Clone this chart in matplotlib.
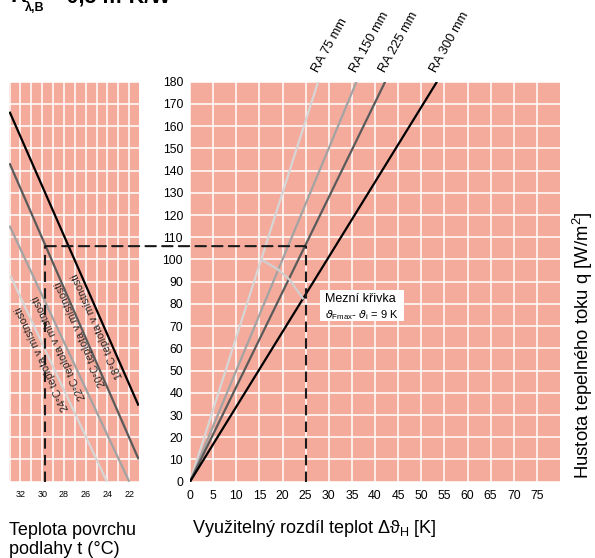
import numpy as np
import matplotlib.pyplot as plt
from matplotlib.patches import ConnectionPatch, Rectangle

plt.rcParams['font.family'] = ['Liberation Sans', 'DejaVu Sans']

# levý graf: teplota povrchu podlahy vs. hustota tepelného toku
room_labels = ['18°C teplota v místnosti', '20°C teplota v místnosti',
               '22°C teplota v místnosti', '24°C teplota v místnosti']
room_t = [[33.0, 21.14], [33.0, 21.14], [33.0, 22.0], [32.92, 24.05]]
room_q = [[166.5, 34.2], [143.3, 10.1], [115.2, 0.0], [92.7, 0.0]]
room_colors = ['#000000', '#5a5a5a', '#a3a3a3', '#d6d6d6']
# pozice popisků (t, q)
room_label_t = [24.95, 26.5, 28.45, 30.0]
room_label_q = [70.0, 66.5, 60.5, 55.5]

# pravý graf: využitelný rozdíl teplot vs. hustota tepelného toku
ra_labels = ['RA 75 mm', 'RA 150 mm', 'RA 225 mm', 'RA 300 mm']
ra_dt = [[0, 27.7], [0, 36.0], [0, 42.2], [0, 53.4]]
ra_q = [[0, 180], [0, 180], [0, 180], [0, 180]]
ra_colors = ['#d6d6d6', '#a3a3a3', '#5a5a5a', '#000000']

# mezní křivka
limit_dt = [15.4, 19.0, 21.5, 24.4]
limit_q = [100.0, 95.5, 91.0, 82.5]

# příklad odečtu
ex_t = 29.7
ex_dt = 25.0
ex_q = 106.0

bg = '#f5ab9c'

fig = plt.figure(figsize=(5.95, 5.58), dpi=100)
ax1 = fig.add_axes([9 / 595, 76.3 / 558, 129.5 / 595, 400 / 558])
ax2 = fig.add_axes([190 / 595, 76.3 / 558, 370 / 595, 400 / 558])

for ax in (ax1, ax2):
    ax.set_facecolor(bg)
    for s in ax.spines.values():
        s.set_visible(False)
    ax.tick_params(length=0)
    ax.set_ylim(0, 180)
    ax.set_axisbelow(True)

# --- levý graf ---
ax1.set_xlim(33.05, 21.15)
ax1.set_xticks(np.arange(32, 21, -2))
ax1.set_xticks(np.arange(33, 21, -1), minor=True)
ax1.set_yticks(np.arange(0, 181, 10))
ax1.set_yticklabels([])
ax1.tick_params(axis='x', labelsize=6.5, pad=6)
ax1.tick_params(which='minor', length=0)
ax1.grid(True, which='both', color='white', lw=1.1)

for t, q, c in zip(room_t, room_q, room_colors):
    ax1.plot(t, q, color=c, lw=1.6, solid_capstyle='butt')

fig.canvas.draw()
for lab, t, q, lt, lq in zip(room_labels, room_t, room_q, room_label_t, room_label_q):
    p0 = ax1.transData.transform((t[0], q[0]))
    p1 = ax1.transData.transform((t[1], q[1]))
    ang = np.degrees(np.arctan2(p0[1] - p1[1], p0[0] - p1[0]))
    ax1.text(lt, lq, lab, rotation=ang, rotation_mode='anchor',
             ha='center', va='center', fontsize=7.7, color='#222222')

ax1.plot([ex_t, ex_t], [0, ex_q], color='#1a1a1a', lw=1.5, dashes=(5, 3))

# --- pravý graf ---
ax2.set_xlim(0, 80)
ax2.set_xticks(np.arange(0, 80, 5))
ax2.set_yticks(np.arange(0, 181, 10))
ax2.tick_params(axis='both', labelsize=8.8)
ax2.tick_params(axis='x', pad=6)
ax2.tick_params(axis='y', pad=5)
ax2.grid(True, color='white', lw=1.1)

for x, q, c in zip(ra_dt, ra_q, ra_colors):
    ax2.plot(x, q, color=c, lw=1.6, solid_capstyle='butt')

ax2.plot(limit_dt, limit_q, color='#cfcfcf', lw=1.6)

for lab, x in zip(ra_labels, ra_dt):
    ax2.annotate(lab, xy=(x[1], 180), xytext=(1.5, 5), textcoords='offset points',
                 rotation=61, rotation_mode='anchor', ha='left', va='bottom',
                 fontsize=9.3, annotation_clip=False)

ax2.plot([ex_dt, ex_dt], [0, ex_q], color='#1a1a1a', lw=1.5, dashes=(5, 3))

# popisek mezní křivky
ax2.add_patch(Rectangle((28.1, 72.3), 18.2, 14.0, facecolor='white',
                        edgecolor='none', zorder=3))
ax2.text(29.2, 84.8, 'Mezní křivka', fontsize=9, va='top', zorder=4)
ax2.text(29.2, 78.0, r'$\vartheta_{\mathregular{Fmax}}$- $\vartheta_{\mathregular{i}}$ = 9 K',
         fontsize=8, va='top', zorder=4)

# vodorovná čárkovaná čára přes oba grafy
con = ConnectionPatch(xyA=(ex_t, ex_q), coordsA=ax1.transData,
                      xyB=(ex_dt, ex_q), coordsB=ax2.transData,
                      color='#1a1a1a', lw=1.5, linestyle=(0, (5, 3)))
fig.add_artist(con)

# texty os
fig.text(9 / 595, 1 - 554 / 558, 'Teplota povrchu\npodlahy t (°C)',
         fontsize=13, va='baseline', linespacing=1.15)
fig.text(192 / 595, 1 - 533 / 558,
         'Využitelný rozdíl teplot Δϑ$_\\mathregular{H}$ [K]',
         fontsize=13, va='baseline')
fig.text(583 / 595, 1 - 345 / 558, 'Hustota tepelného toku q [W/m$^\\mathregular{2}$]',
         rotation=90, fontsize=13.3, ha='center', va='center')

# nadpis (oříznutý nahoře)
fig.text(10 / 595, 1 - 2 / 558, 'R', fontsize=16, fontweight='bold', va='baseline')
fig.text(25 / 595, 1 - 11 / 558, 'λ,B', fontsize=9, fontweight='bold', va='baseline')
fig.text(48 / 595, 1 - 2 / 558, '= 0,5 m²K/W', fontsize=15.5, fontweight='bold',
         va='baseline')

fig.savefig('out.png', dpi=100)
